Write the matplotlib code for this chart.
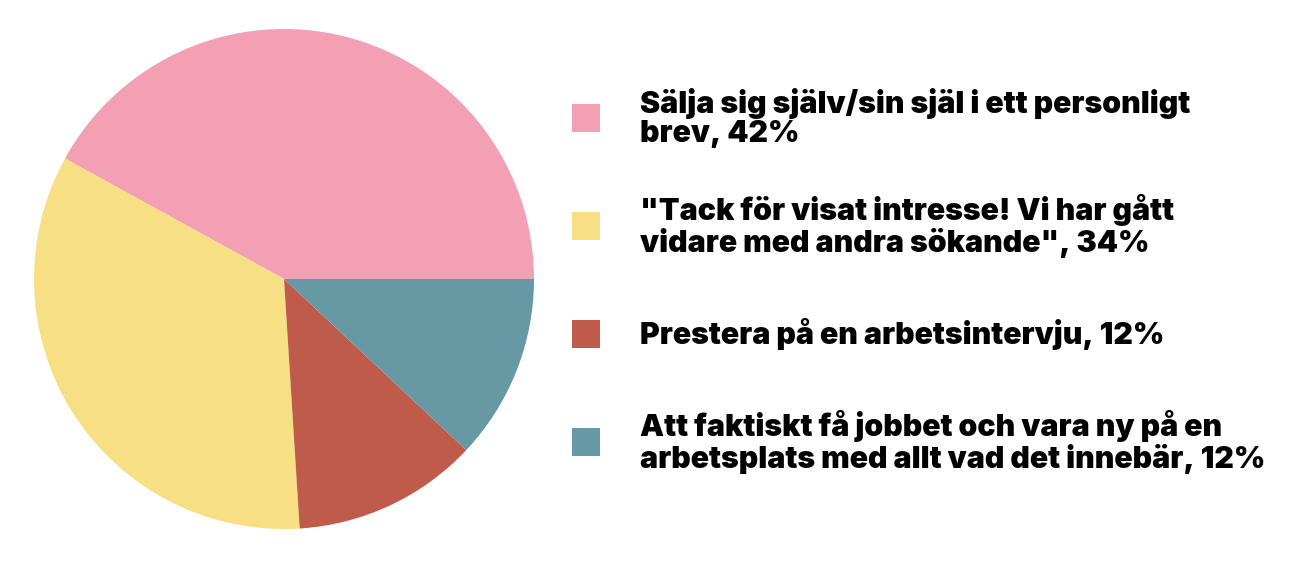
import matplotlib
matplotlib.use('Agg')
import matplotlib.pyplot as plt
from matplotlib.patches import Rectangle

labels = ['Sälja sig själv/sin själ i ett personligt\nbrev, 42%',
          '"Tack för visat intresse! Vi har gått\nvidare med andra sökande", 34%',
          'Prestera på en arbetsintervju, 12%',
          'Att faktiskt få jobbet och vara ny på en\narbetsplats med allt vad det innebär, 12%']
values = [42, 34, 12, 12]
colors = ['#F3A0B5', '#F7DF83', '#BE5B4A', '#6699A3']

W, H = 1296, 561
fig = plt.figure(figsize=(W / 100, H / 100), dpi=100)
fig.patch.set_facecolor('white')

ax = fig.add_axes([34 / W, (H - 529) / H, 500 / W, 500 / H])
ax.pie(values, colors=colors, startangle=0, counterclock=True,
       wedgeprops=dict(linewidth=0))
ax.set_xlim(-1, 1)
ax.set_ylim(-1, 1)
ax.set_aspect('equal')
ax.axis('off')

# legend, placed by hand so the rows are evenly spaced
row_y = [118, 226, 334, 442]
for lab, col, y in zip(labels, colors, row_y):
    fig.patches.append(Rectangle((572 / W, (H - y - 14) / H), 28 / W, 28 / H,
                                 transform=fig.transFigure, facecolor=col,
                                 edgecolor='none'))
    fig.text(640 / W, (H - y) / H, lab, ha='left', va='center',
             fontsize=21.8, fontweight='black', family=['Inter', 'DejaVu Sans'],
             linespacing=1.08, color='black')

fig.savefig('out.png', dpi=100)
